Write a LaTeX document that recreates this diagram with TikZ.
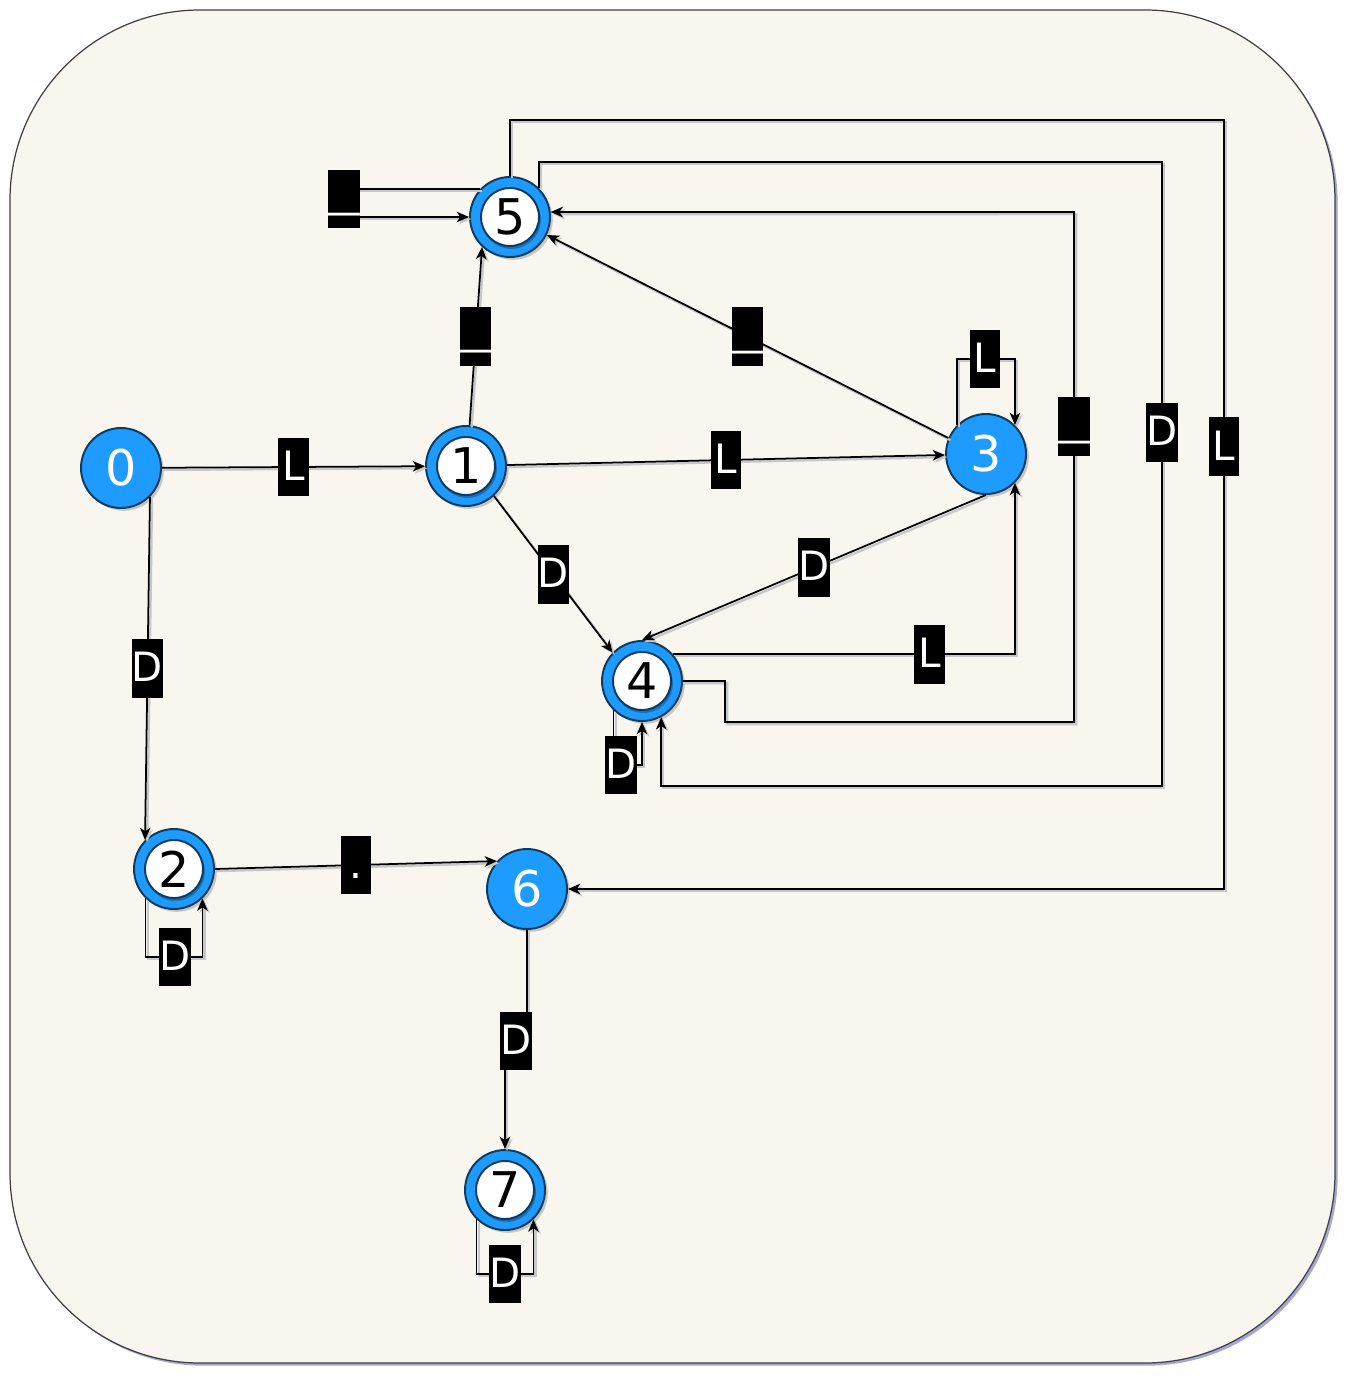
\documentclass[tikz,border=0pt]{standalone}
\usepackage{fontspec}
\setmainfont{DejaVu Sans}
\usetikzlibrary{positioning,arrows.meta,shadows}
\definecolor{stateblue}{RGB}{30,155,255}
\definecolor{statenavy}{RGB}{14,58,94}
\definecolor{paper}{RGB}{248,246,238}

\begin{document}
\begin{tikzpicture}[x=0.02cm, y=-0.02cm,
  state/.style={circle, draw=statenavy, line width=1.1pt, fill=stateblue, minimum size=1.6cm, inner sep=0pt, text=white, font=\fontsize{28}{32}\selectfont, drop shadow={shadow xshift=1.6pt, shadow yshift=-1.6pt, fill=black!45, opacity=.45}},
  accept/.style={state, text=black, path picture={
    \fill[stateblue!55!statenavy] ([xshift=0.8pt,yshift=-1.4pt]path picture bounding box.center) circle (0.59cm);
    \filldraw[fill=white, draw=statenavy, line width=1.1pt] (path picture bounding box.center) circle (0.58cm);}},
  lbl/.style={fill=black, text=white, inner sep=0pt, minimum width=17.6pt, minimum height=33.5pt, text height=18.5pt, text depth=3.5pt, font=\fontsize{23}{26}\selectfont},
  trans/.style={line width=1pt, -{Stealth[length=7pt,width=6pt,inset=2pt]}, preaction={draw=black!22, line width=1.3pt, transform canvas={xshift=1.2pt,yshift=-1.2pt}}},
]

\useasboundingbox (0,0) rectangle (1357,1385);
\fill[white] (0,0) rectangle (1357,1385);
\draw[draw=black!75, line width=0.7pt, fill=paper, rounded corners=3.8cm, drop shadow={shadow xshift=1.5pt, shadow yshift=-1.5pt, fill=blue!40!gray, opacity=.5}] (10,10) rectangle (1335,1363);

% ======================================
% THE STATES
% ======================================
\node[state] (n0) at (121,468) {0};
\node[accept] (n1) at (466,466) {1};
\node[accept] (n2) at (174,869) {2};
\node[state] (n3) at (986,454) {3};
\node[accept] (n4) at (642,681) {4};
\node[accept] (n5) at (510,217) {5};
\node[state] (n6) at (527,889) {6};
\node[accept] (n7) at (505,1190) {7};

% ======================================
% LEFT PART: 0, 1, 2, 6, 7
% ======================================
\draw [trans] (n0) -- node[lbl] {L} (n1);
\draw [trans] (n0.-45) -- node[lbl] {D} (n2.135);
\draw [trans] (n2.-134) |- (175,957) node[lbl] {D} -| (n2.-46);
\draw [trans] (n2.east) -- node[lbl] {.} (n6.137);
\draw [trans] (n6.south) |- (516,1041) node[lbl] {D} -| (n7.north);
\draw [trans] (n7.-134) |- (505,1274) node[lbl] {D} -| (n7.-46);

% ======================================
% MIDDLE: 1, 3, 4
% ======================================
\draw [trans] (n1) -- node[lbl] {L} (n3);
\draw [trans] (n1.-47) -- node[lbl] {D} (n4.136);
\draw [trans] (n1.85) -- node[lbl] {\raisebox{3pt}{\scalebox{1.55}[1]{\_}}} (n5.227);
\draw [trans] (n3.south) -- node[lbl] {D} (n4.north);
\draw [trans] (n3.157) -- node[lbl] {\raisebox{3pt}{\scalebox{1.55}[1]{\_}}} (n5.-26);
\draw [trans] (n3.135) |- (985,359) node[lbl] {L} -| (n3.45);
\draw [trans] (n4.41) -| node[lbl, pos=0.375] {L} (n3.-45);
\draw [trans] (n4.-134) |- (621,765) node[lbl] {D} -| (n4.south);

% ======================================
% OUTER LOOPS ROUND 5
% ======================================
\draw [trans] (n5.137) -| (344,199) node[lbl] {\raisebox{3pt}{\scalebox{1.55}[1]{\_}}} |- (n5.west);
\draw [trans] (n4.east) -| (725,722) -| node[lbl, pos=0.79] {\raisebox{3pt}{\scalebox{1.55}[1]{\_}}} (1074,212) -- (n5.7);
\draw [trans] (n5.45) |- (1162,162) -- node[lbl, pos=0.433] {D} (1162,786) -| (n4.-62);
\draw [trans] (n5.north) |- (1224,120) -- node[lbl, pos=0.425] {L} (1224,889) -- (n6.east);

\end{tikzpicture}
\end{document}
